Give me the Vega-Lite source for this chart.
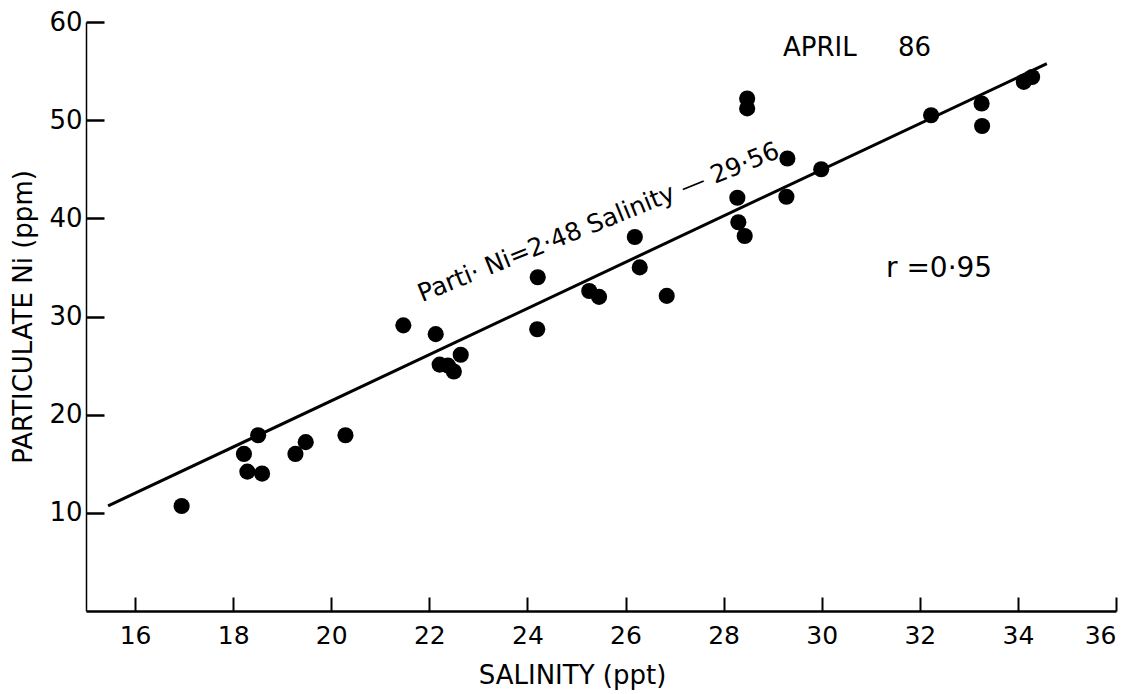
{
  "$schema": "https://vega.github.io/schema/vega-lite/v6.json",
  "autosize": "none",
  "width": 1030,
  "height": 589,
  "padding": {"left": 86, "top": 22, "right": 18, "bottom": 83},
  "background": "white",
  "config": {
    "view": {"stroke": null},
    "font": "DejaVu Sans",
    "axis": {"grid": false, "domainColor": "black", "tickColor": "black", "labelColor": "black", "titleColor": "black", "labelFont": "DejaVu Sans", "titleFont": "DejaVu Sans", "titleFontWeight": "normal"}
  },
  "datasets": {
    "points": [
      {"salinity": 16.95, "ni": 10.7},
      {"salinity": 18.22, "ni": 16.0},
      {"salinity": 18.51, "ni": 17.9},
      {"salinity": 18.29, "ni": 14.2},
      {"salinity": 18.59, "ni": 14.0},
      {"salinity": 19.27, "ni": 16.0},
      {"salinity": 19.48, "ni": 17.2},
      {"salinity": 20.29, "ni": 17.9},
      {"salinity": 21.47, "ni": 29.1},
      {"salinity": 22.13, "ni": 28.2},
      {"salinity": 22.21, "ni": 25.1},
      {"salinity": 22.38, "ni": 25.0},
      {"salinity": 22.5, "ni": 24.4},
      {"salinity": 22.64, "ni": 26.1},
      {"salinity": 24.21, "ni": 34.0},
      {"salinity": 24.2, "ni": 28.7},
      {"salinity": 25.26, "ni": 32.6},
      {"salinity": 25.46, "ni": 32.0},
      {"salinity": 26.19, "ni": 38.1},
      {"salinity": 26.29, "ni": 35.0},
      {"salinity": 26.84, "ni": 32.1},
      {"salinity": 28.48, "ni": 52.2},
      {"salinity": 28.48, "ni": 51.2},
      {"salinity": 28.28, "ni": 42.1},
      {"salinity": 28.3, "ni": 39.6},
      {"salinity": 28.43, "ni": 38.2},
      {"salinity": 29.3, "ni": 46.1},
      {"salinity": 29.28, "ni": 42.2},
      {"salinity": 29.99, "ni": 45.0},
      {"salinity": 32.23, "ni": 50.5},
      {"salinity": 33.26, "ni": 51.7},
      {"salinity": 33.27, "ni": 49.4},
      {"salinity": 34.12, "ni": 53.9},
      {"salinity": 34.29, "ni": 54.4}
    ],
    "fit": [
      {"salinity": 15.45, "ni": 10.7},
      {"salinity": 34.59, "ni": 55.75}
    ]
  },
  "layer": [
    {
      "data": {"name": "fit"},
      "mark": {"type": "line", "color": "black", "strokeWidth": 3},
      "encoding": {
        "x": {"field": "salinity", "type": "quantitative", "scale": {"domain": [15, 36], "nice": false, "zero": false},
          "axis": {"values": [16, 18, 20, 22, 24, 26, 28, 30, 32, 34, 36], "tickSize": -14, "tickWidth": 2, "domainWidth": 2.5, "labelFontSize": 25, "labelPadding": 26, "title": "SALINITY (ppt)", "titleFontSize": 26, "titlePadding": 14, "titleX": 486}},
        "y": {"field": "ni", "type": "quantitative", "scale": {"domain": [0, 60], "nice": false},
          "axis": {"values": [10, 20, 30, 40, 50, 60], "tickSize": -18, "tickWidth": 2.5, "domainWidth": 1.5, "labelFontSize": 26, "labelPadding": 22, "title": "PARTICULATE Ni (ppm)", "titleFontSize": 26, "titlePadding": 12}}
      }
    },
    {
      "data": {"name": "points"},
      "mark": {"type": "point", "filled": true, "color": "black", "opacity": 1, "size": 260},
      "encoding": {
        "x": {"field": "salinity", "type": "quantitative"},
        "y": {"field": "ni", "type": "quantitative"}
      }
    },
    {
      "data": {"values": [{"note": "APRIL\u00a0\u00a0\u00a0\u00a0\u00a086"}]},
      "mark": {"type": "text", "align": "left", "baseline": "middle", "fontSize": 26, "color": "black"},
      "encoding": {"x": {"datum": 29.21}, "y": {"datum": 57.4}, "text": {"field": "note"}}
    },
    {
      "data": {"values": [{"note": "r =0·95"}]},
      "mark": {"type": "text", "align": "left", "baseline": "middle", "fontSize": 28, "color": "black"},
      "encoding": {"x": {"datum": 31.31}, "y": {"datum": 34.8}, "text": {"field": "note"}}
    },
    {
      "data": {"values": [{"note": "Parti· Ni=2·48 Salinity — 29·56"}]},
      "mark": {"type": "text", "align": "center", "baseline": "middle", "fontSize": 25, "angle": -22, "color": "black"},
      "encoding": {"x": {"datum": 25.45}, "y": {"datum": 39.6}, "text": {"field": "note"}}
    }
  ]
}
